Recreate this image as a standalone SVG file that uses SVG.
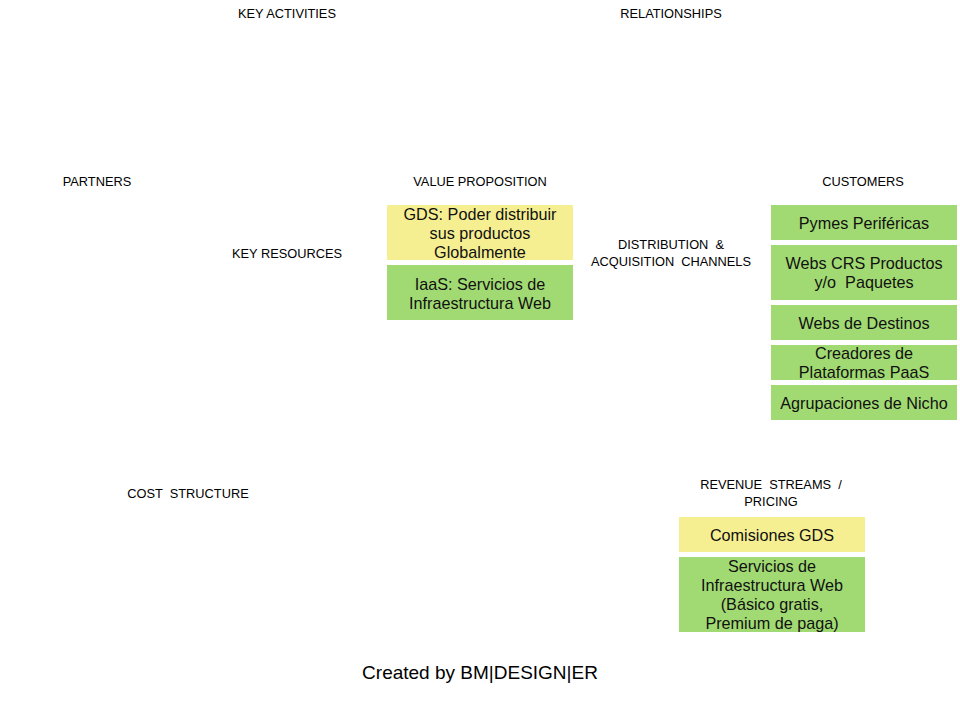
<svg xmlns="http://www.w3.org/2000/svg" width="960" height="720" viewBox="0 0 960 720">
<style>
.lbl{font-family:"Liberation Sans",Arial,sans-serif;font-size:12.8px;fill:#000;text-anchor:middle}
.bt{font-family:"Liberation Sans",Arial,sans-serif;font-size:16.2px;fill:#111;text-anchor:middle}
.y{fill:#F5EF91}
.g{fill:#A1DA73}
.ft{font-family:"Liberation Sans",Arial,sans-serif;font-size:19px;fill:#000;text-anchor:middle}
</style>
<rect width="960" height="720" fill="#fff"/>
<g id="labels">
<text class="lbl" x="287" y="18">KEY ACTIVITIES</text>
<text class="lbl" x="671" y="18">RELATIONSHIPS</text>
<text class="lbl" x="97" y="186">PARTNERS</text>
<text class="lbl" x="480" y="186">VALUE PROPOSITION</text>
<text class="lbl" x="863" y="186">CUSTOMERS</text>
<text class="lbl" x="287" y="258">KEY RESOURCES</text>
<text class="lbl" x="671" y="249" xml:space="preserve">DISTRIBUTION  &amp;</text>
<text class="lbl" x="671" y="266" xml:space="preserve">ACQUISITION  CHANNELS</text>
<text class="lbl" x="188" y="498" xml:space="preserve">COST  STRUCTURE</text>
<text class="lbl" x="771" y="489" xml:space="preserve">REVENUE  STREAMS  /</text>
<text class="lbl" x="771" y="506">PRICING</text>
</g>
<g id="vp-gds"><rect class="y" x="387" y="205" width="186" height="55"/>
<text class="bt" x="480" y="219.5">GDS: Poder distribuir</text>
<text class="bt" x="480" y="238.5">sus productos</text>
<text class="bt" x="480" y="257.5">Globalmente</text></g>
<g id="vp-iaas"><rect class="g" x="387" y="265" width="186" height="55"/>
<text class="bt" x="480" y="289.5">IaaS: Servicios de</text>
<text class="bt" x="480" y="308.5">Infraestructura Web</text></g>
<g id="cu-pymes"><rect class="g" x="771" y="205" width="186" height="35"/>
<text class="bt" x="864" y="228.5">Pymes Periféricas</text></g>
<g id="cu-crs"><rect class="g" x="771" y="245" width="186" height="55"/>
<text class="bt" x="864" y="268.5">Webs CRS Productos</text>
<text class="bt" x="864" y="287.5" xml:space="preserve">y/o  Paquetes</text></g>
<g id="cu-dest"><rect class="g" x="771" y="305" width="186" height="35"/>
<text class="bt" x="864" y="328.5">Webs de Destinos</text></g>
<g id="cu-paas"><rect class="g" x="771" y="345" width="186" height="35"/>
<text class="bt" x="864" y="358.5">Creadores de</text>
<text class="bt" x="864" y="377.5">Plataformas PaaS</text></g>
<g id="cu-nicho"><rect class="g" x="771" y="385" width="186" height="35"/>
<text class="bt" x="864" y="408.5">Agrupaciones de Nicho</text></g>
<g id="rv-gds"><rect class="y" x="679" y="517" width="186" height="35"/>
<text class="bt" x="772" y="540.5">Comisiones GDS</text></g>
<g id="rv-serv"><rect class="g" x="679" y="557" width="186" height="75"/>
<text class="bt" x="772" y="571.5">Servicios de</text>
<text class="bt" x="772" y="590.5">Infraestructura Web</text>
<text class="bt" x="772" y="609.5">(Básico gratis,</text>
<text class="bt" x="772" y="628.5">Premium de paga)</text></g>
<g id="connectors"></g>
<text class="ft" x="480" y="679">Created by BM|DESIGN|ER</text>
</svg>
